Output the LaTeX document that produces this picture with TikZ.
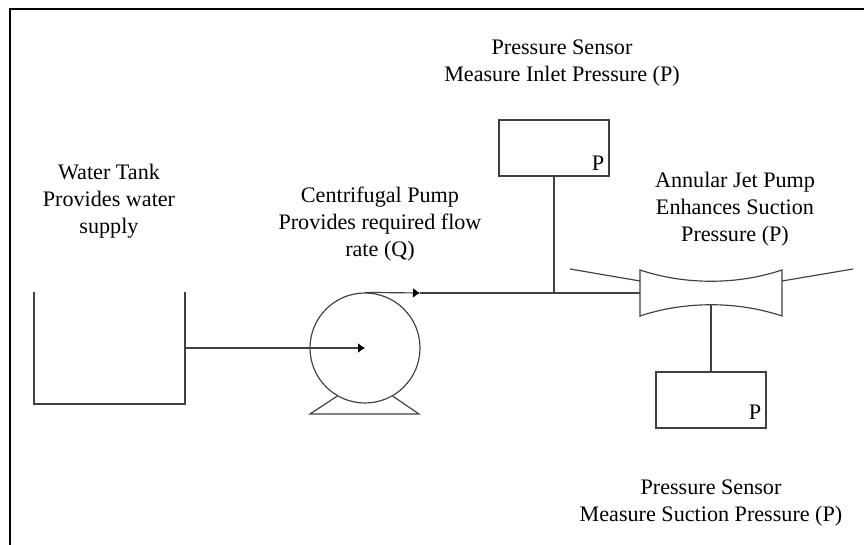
\documentclass[tikz,border=0pt]{standalone}
\usepackage{fontspec}
\usetikzlibrary{arrows.meta}
\setmainfont{Liberation Serif}
\begin{document}
\begin{tikzpicture}[x=0.03cm, y=-0.03cm]
	\tikzset{trait/.style={draw=black!75, line width=0.035cm}, boite/.style={rectangle, trait, minimum width=3.3cm, minimum height=1.68cm, inner sep=0}, texte/.style={align=center, font=\fontsize{18.9}{23}\selectfont, inner sep=0}, fleche/.style={trait, -{Latex[length=0.21cm, width=0.3cm, black]}}};
	\useasboundingbox (0,0) rectangle (864,545);

	\draw[black, line width=0.06cm] (10,545) -- (10,9) -- (864,9);

	\node[texte] (ttank) at (109,201) {Water Tank\\Provides water\\supply};
	\node[texte] (tpump) at (380,224) {Centrifugal Pump\\Provides required flow\\rate (Q)};
	\node[texte] (tinlet) at (562,63) {Pressure Sensor\\Measure Inlet Pressure (P)};
	\node[texte] (tjet) at (735,209) {Annular Jet Pump\\Enhances Suction\\Pressure (P)};
	\node[texte] (tsuction) at (711,503) {Pressure Sensor\\Measure Suction Pressure (P)};

	\node[boite] (inlet) at (554,148) {};
	\node[boite] (suction) at (711,400) {};
	\node[texte] (pinlet) at (598,163) {P};
	\node[texte] (psuction) at (755,412) {P};

	\node[circle, trait, minimum width=3.3cm, inner sep=0] (pump) at (365,348) {};
	\coordinate (pumpc) at (365,348);
	\coordinate (basel) at (310,414);
	\coordinate (baser) at (419,414);
	\coordinate (outmid) at (420,293);
	\coordinate (tee) at (554,293);
	\coordinate (jetin) at (640,293);
	\coordinate (jetbot) at (711,305);

	% tank
	\draw[trait] (34,292) -- (34,404) -- (185,404) -- (185,292);
	\coordinate (tankout) at (185,348);

	% pump base
	\draw[trait] (pump.240) -- (basel) -- (baser) -- (pump.-60);

	% jet pump
	\draw[trait] (640,270) .. controls (685,285) and (737,285) .. (782,270) -- (782,316) .. controls (737,301) and (685,301) .. (640,316) -- cycle;
	\draw[trait] (570,269) -- (640,281);
	\draw[trait] (782,281) -- (853,269);

	% pipes
	\draw[fleche] (tankout) -- (pumpc);
	\draw[fleche] (pump.north) -- (outmid);
	\draw[trait] (outmid) -- (jetin);
	\draw[trait] (inlet) -- (tee);
	\draw[trait] (jetbot) -- (suction);
\end{tikzpicture}
\end{document}
